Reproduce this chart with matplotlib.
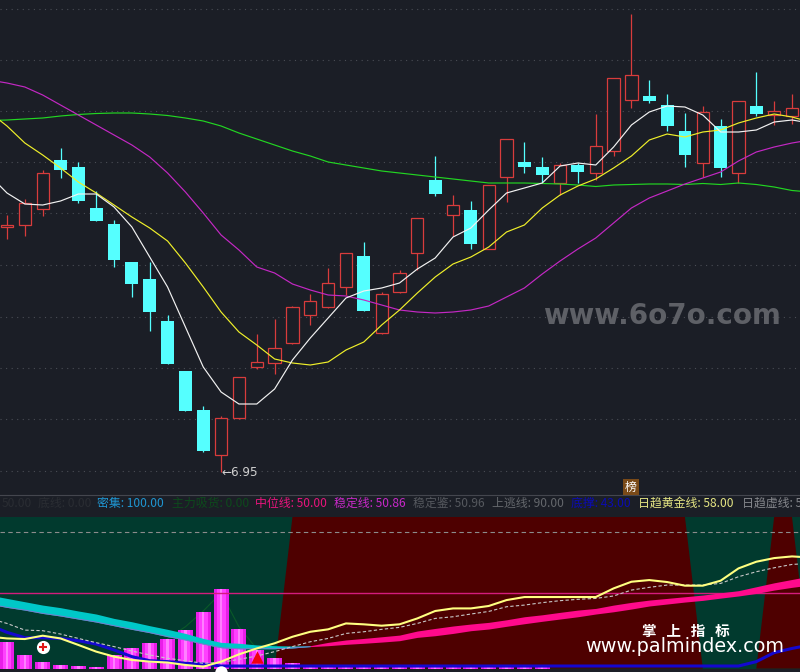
import numpy as np
import matplotlib
matplotlib.use('Agg')
import matplotlib.pyplot as plt

plt.rcParams['font.family'] = ['Noto Sans CJK SC', 'DejaVu Sans']

# K-line data, one entry per day
opens = [11.85, 11.89, 12.21, 13.19, 13.05, 12.23, 11.91, 11.15, 10.81, 9.97, 8.97, 8.19, 7.29, 8.03, 9.05,
         9.13, 9.53, 10.09, 10.25, 10.65, 11.27, 9.73, 10.55, 11.33, 12.79, 12.09, 12.19, 11.41, 12.85, 13.15,
         13.05, 12.73, 13.09, 12.93, 13.37, 14.39, 14.47, 14.29, 13.77, 13.13, 13.87, 12.93, 14.27, 14.09, 14.07]
closes = [11.89, 12.33, 12.93, 12.99, 12.37, 11.97, 11.19, 10.71, 10.15, 9.11, 8.17, 7.37, 8.03, 8.85, 9.15,
          9.43, 10.25, 10.37, 10.73, 11.33, 10.17, 10.51, 10.93, 12.03, 12.51, 12.29, 11.51, 12.69, 13.61, 13.05,
          12.89, 13.09, 12.95, 13.47, 14.83, 14.89, 14.37, 13.87, 13.29, 14.15, 13.03, 14.37, 14.11, 14.17, 14.23]
highs = [12.09, 12.41, 12.99, 13.43, 13.15, 12.57, 11.99, 11.15, 11.15, 10.09, 8.97, 8.27, 8.07, 8.85, 9.71,
         10.01, 10.27, 10.51, 11.03, 11.33, 11.55, 10.55, 10.99, 12.03, 13.27, 12.49, 12.37, 12.69, 13.61, 13.55,
         13.25, 13.13, 13.13, 14.11, 14.83, 16.11, 14.79, 14.51, 14.13, 14.27, 14.01, 14.37, 14.95, 14.37, 14.51]
lows = [11.61, 11.67, 12.07, 12.83, 12.33, 11.97, 11.05, 10.45, 9.77, 9.11, 8.17, 7.35, 6.95, 8.01, 9.01,
        8.91, 9.51, 9.89, 10.23, 10.49, 10.17, 9.71, 10.53, 10.99, 12.47, 11.67, 11.41, 11.41, 12.35, 12.93,
        12.73, 12.49, 12.73, 12.79, 13.27, 14.23, 14.33, 13.77, 13.05, 12.85, 12.85, 12.73, 14.07, 13.89, 13.91]

# moving averages, these start one day before and end one day after the candles
ma_white = [12.89, 12.53, 12.31, 12.29, 12.37, 12.51, 12.51, 12.25, 11.85, 11.25, 10.65, 9.85, 9.05, 8.55, 8.31, 8.31,
            8.61, 9.19, 9.63, 10.03, 10.43, 10.57, 10.63, 10.73, 11.01, 11.23, 11.65, 11.83, 12.19, 12.53, 12.63,
            12.73, 13.07, 13.13, 13.09, 13.45, 13.89, 14.15, 14.27, 14.25, 14.09, 13.75, 13.75, 13.79, 13.95, 13.99, 13.93]
ma_yellow = [14.15, 13.87, 13.53, 13.29, 13.03, 12.75, 12.53, 12.29, 12.05, 11.83, 11.57, 11.13, 10.65, 10.15, 9.75, 9.49,
             9.21, 9.13, 9.09, 9.15, 9.39, 9.55, 9.89, 10.19, 10.53, 10.85, 11.11, 11.25, 11.45, 11.75, 11.89,
             12.23, 12.49, 12.67, 12.81, 13.03, 13.27, 13.59, 13.71, 13.65, 13.75, 13.79, 13.93, 14.03, 14.11, 14.05, 13.95]
ma_magenta = [14.79, 14.73, 14.65, 14.49, 14.29, 14.09, 13.89, 13.69, 13.49, 13.25, 12.93, 12.55, 12.13, 11.69, 11.39, 11.05,
              10.93, 10.71, 10.59, 10.49, 10.47, 10.39, 10.29, 10.19, 10.15, 10.13, 10.15, 10.19, 10.27, 10.45, 10.63,
              10.91, 11.17, 11.41, 11.63, 11.93, 12.23, 12.43, 12.57, 12.71, 12.83, 12.95, 13.17, 13.35, 13.45, 13.53, 13.59]
ma_green = [13.98, 13.99, 14.01, 14.03, 14.07, 14.10, 14.12, 14.13, 14.13, 14.11, 14.08, 14.03, 13.97, 13.87, 13.73, 13.61,
            13.49, 13.37, 13.27, 13.15, 13.09, 13.03, 12.97, 12.93, 12.89, 12.85, 12.81, 12.77, 12.73, 12.73, 12.73,
            12.72, 12.71, 12.69, 12.66, 12.69, 12.70, 12.71, 12.71, 12.70, 12.72, 12.70, 12.73, 12.70, 12.65, 12.58, 12.55]

# indicator panel, 0-100 scale
zone_red = [0] * 17 + [100] * 23 + [0] * 4 + [100] * 2 + [0]
volume_bars = [17.5, 9, 4.4, 2.4, 1.7, 1.1, 9, 13.6, 16.9, 19.5, 25.4, 37.3, 52.5, 26.1, 12.3,
               7, 3.7, 1.7, 1, 1, 1, 1, 1, 1, 1, 1, 1, 1, 1, 1, 1]
absorb_days = [9, 10, 11, 12, 13, 14]
absorb_line = [20, 27.6, 38, 50, 27.6, 13]
band_hi = [48.5, 46.3, 44.1, 41.9, 40.2, 38.0, 36.0, 33.1, 30.9, 28.3, 25.9, 23.2, 19.9, 17.3, 16.7, 15.6,
           15.1, 14.9, 15.1, 17.3, 18.9, 19.9, 21.0, 22.1, 24.8, 26.5, 28.1, 29.4, 30.5, 32.2, 34.2,
           35.5, 37.1, 38.6, 39.7, 41.9, 43.7, 45.2, 46.3, 47.4, 48.5, 50.0, 51.4, 54.0, 56.6, 58.8, 61.0]
band_lo = [42.6, 40.4, 38.6, 36.4, 34.7, 32.7, 30.7, 28.3, 25.9, 23.7, 21.1, 18.9, 16.2, 13.8, 13.1, 13.1,
           13.1, 13.6, 14.5, 15.1, 16.0, 16.7, 17.5, 18.4, 20.6, 21.7, 23.2, 25.0, 26.1, 27.9, 29.6,
           31.2, 32.7, 34.2, 36.0, 37.5, 39.3, 41.3, 42.6, 43.9, 45.0, 46.5, 47.9, 49.6, 51.8, 53.6, 55.1]
gold_line = [21.1, 19.9, 19.5, 21.7, 19.9, 15.6, 11.2, 7.9, 5.7, 4.6, 4.0, 2.4, 1.3, 4.6, 9.4, 13.3,
             16.7, 21.0, 24.3, 25.9, 29.8, 29.2, 28.3, 29.2, 33.1, 38.0, 39.7, 39.7, 41.3, 45.2, 47.2,
             47.2, 47.2, 47.2, 47.2, 52.9, 57.3, 58.4, 57.1, 54.7, 54.7, 58.0, 66.1, 70.5, 72.9, 74.0, 73.3]
dash_line = [33.1, 29.8, 25.4, 25.0, 22.8, 19.9, 17.1, 14.5, 11.6, 9.0, 6.8, 5.2, 3.5, 4.1, 6.1, 8.3,
             11.2, 14.5, 17.7, 19.9, 23.2, 24.3, 25.9, 27.2, 29.8, 33.1, 34.2, 36.0, 37.7, 40.8, 41.9,
             43.5, 44.8, 45.7, 46.3, 47.9, 51.8, 53.6, 55.1, 55.1, 55.1, 56.2, 60.6, 63.9, 66.5, 68.7, 69.4]
blue_line = [28.8, 23.9, 20.4, 20.4, 19.9, 18.4, 16.2, 12.3, 7.9, 5.2, 4.6, 3.5, 3.0, 1.7, 1.7, 1.7,
             1.7, 1.7, 1.7, 1.7, 1.7, 1.7, 1.7, 1.7, 1.7, 1.7, 1.7, 1.7, 1.7, 1.7, 1.7,
             1.7, 1.7, 1.7, 1.7, 1.7, 1.7, 1.7, 1.7, 1.7, 1.7, 1.7, 1.7, 4.6, 10.5, 13.3, 15.6]

legend_labels = ['50.00', '底线: 0.00', '密集: 100.00', '主力吸货: 0.00', '中位线: 50.00', '稳定线: 50.86',
                 '稳定鉴: 50.96', '上逃线: 90.00', '底撑: 43.00', '日趋黄金线: 58.00', '日趋虚线: 58.00']
legend_x = [2, 38, 97, 172, 255, 334, 413, 492, 571, 638, 742]
legend_colors = ['#2a2d33', '#2a2d33', '#1f96d2', '#0d4a1c', '#e8147c', '#c828c8',
                 '#55585e', '#64676c', '#0b0bb4', '#e6e684', '#85878c']

BG = '#1b1e26'
W, H = 800, 672

fig = plt.figure(figsize=(8, 6.72), dpi=100, facecolor=BG)
ax = fig.add_axes([0, (H - 495) / H, 1, 495 / H], facecolor=BG)
ax2 = fig.add_axes([0, (H - 668.6) / H, 1, 151.6 / H], facecolor='#013a2e')

days = np.arange(len(opens))
line_x = np.arange(-1, len(opens) + 1)

# candles
o, c = np.array(opens), np.array(closes)
hi_p, lo_p = np.array(highs), np.array(lows)
up = c >= o
ax.vlines(days[up], lo_p[up], hi_p[up], color='#d83c3c', lw=0.9, zorder=2)
ax.vlines(days[~up], lo_p[~up], hi_p[~up], color='#55ffff', lw=0.9, zorder=2)
ax.bar(days[up], (c - o)[up], bottom=o[up], width=0.69, facecolor=BG, edgecolor='#d83c3c', lw=0.9, zorder=3)
ax.bar(days[~up], (o - c)[~up], bottom=c[~up], width=0.72, color='#55ffff', zorder=3)

ax.plot(line_x, ma_green, color='#22d622', lw=0.85, zorder=4)
ax.plot(line_x, ma_magenta, color='#c428c4', lw=0.85, zorder=4)
ax.plot(line_x, ma_yellow, color='#f0f02a', lw=0.85, zorder=4)
ax.plot(line_x, ma_white, color='#f2f2f2', lw=0.85, zorder=4)

ax.set_xlim(-0.392, 44.448)
ax.set_ylim(6.49, 16.39)
ax.set_yticks([16.22, 15.19, 14.17, 13.15, 12.13, 11.09, 10.05, 9.03, 8.01, 6.97])
ax.grid(axis='y', color='#4a4d55', lw=0.8, ls=(0, (1, 4)))
ax.set_axisbelow(True)
ax.tick_params(left=False, bottom=False, labelleft=False, labelbottom=False)
for s in ax.spines.values():
    s.set_visible(False)
ax.spines['bottom'].set_visible(True)
ax.spines['bottom'].set_color('#44464e')

ax.text(12, 6.95, '←6.95', color='#d0d0d0', fontsize=8.6, va='center', ha='left', zorder=5, family='DejaVu Sans')
ax.text(34.98, 6.65, '榜', color='white', fontsize=8.6, ha='center', va='center', zorder=5,
        bbox=dict(facecolor='#7a4a18', edgecolor='none', pad=1.2))
fig.text(662 / W, 1 - 316 / H, 'www.6o7o.com', color='#5e6066', fontsize=20, fontweight='bold', ha='center',
         va='center', family='DejaVu Sans')

# legend row
for lab, lx, col in zip(legend_labels, legend_x, legend_colors):
    fig.text(lx / W, 1 - 503.5 / H, lab, color=col, fontsize=8.6, ha='left', va='center')

# lower panel
ax2.fill_between(line_x, 0, zone_red, color='#4e0000', lw=0, zorder=1)
ax2.axhline(90, color='#8c8c8c', lw=0.8, ls=(0, (4, 3)), zorder=2)
ax2.plot(absorb_days, absorb_line, color='#0a5a28', lw=0.8, zorder=2.5)
bar_x = np.arange(len(volume_bars))
ax2.bar(bar_x, volume_bars, width=0.84, color='#e81ee8', zorder=3)
ax2.bar(bar_x, volume_bars, width=0.5, color='#ff40ff', zorder=3)
ax2.bar(bar_x, volume_bars, width=0.14, color='#ff80ff', zorder=3)
ax2.axhline(50, color='#d41c7c', lw=1, zorder=4)

hi, lo = np.array(band_hi), np.array(band_lo)
cut = 19  # position in line_x where the band turns from falling to rising
ax2.fill_between(line_x[:cut], lo[:cut], hi[:cut], color='#00c8c8', lw=0, zorder=5)
ax2.plot(line_x[:cut], lo[:cut], color='#7a7acc', lw=0.7, zorder=5)
ax2.fill_between(line_x[cut - 1:], lo[cut - 1:], hi[cut - 1:], color='#ff0a8c', lw=0, zorder=5)

ax2.plot(line_x, blue_line, color='#1408d0', lw=2.2, zorder=6)
ax2.plot(line_x, dash_line, color='#c8c8c8', lw=0.8, ls=(0, (3, 2)), zorder=6)
ax2.plot(line_x, gold_line, color='#ffff80', lw=1.5, zorder=7)

# signal marks
ax2.scatter([2], [14], s=90, color='white', zorder=8, linewidths=0)
ax2.scatter([2], [14], s=36, color='#e01818', marker='+', zorder=9, linewidths=1.5)
ax2.scatter([12], [-2], s=80, color='white', zorder=8, linewidths=0, clip_on=False)
ax2.scatter([14], [7.6], s=80, color='#f00010', marker='^', zorder=8, linewidths=0)

ax2.set_xlim(-0.392, 44.448)
ax2.set_ylim(0, 100)
ax2.tick_params(left=False, bottom=False, labelleft=False, labelbottom=False)
for s in ax2.spines.values():
    s.set_visible(False)

fig.text(686 / W, 1 - 631 / H, '掌   上   指   标', color='white', fontsize=10.5, fontweight='bold', ha='center',
         va='center', zorder=10)
fig.text(685 / W, 1 - 647 / H, 'www.palmindex.com', color='white', fontsize=13.9, ha='center', va='center',
         family='DejaVu Sans', zorder=10)

fig.savefig('out.png', dpi=100, facecolor=BG)
